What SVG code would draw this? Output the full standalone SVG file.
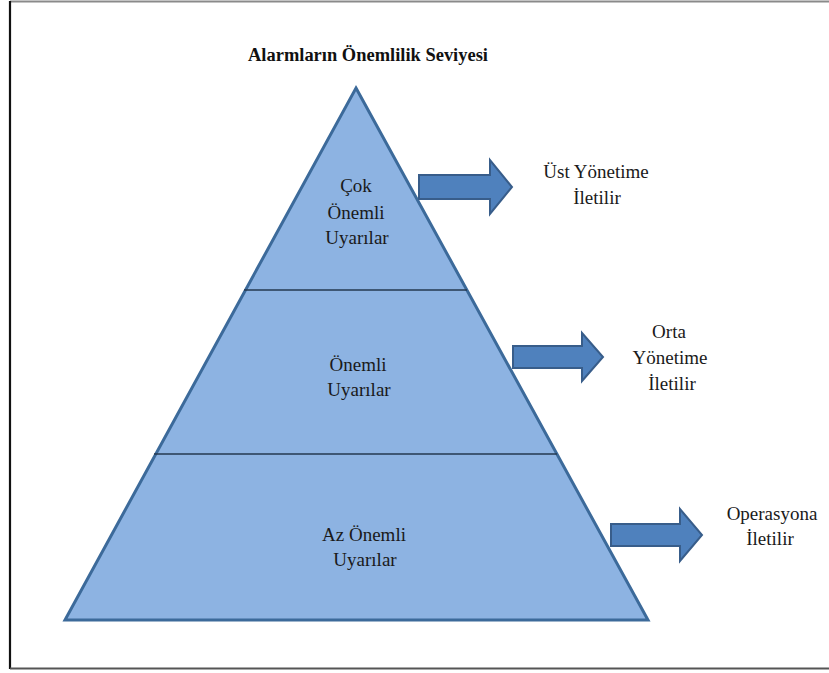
<svg xmlns="http://www.w3.org/2000/svg" width="829" height="673" viewBox="0 0 829 673">
<style>
.lbl{font-family:'Liberation Serif','Times New Roman',Times,serif;font-size:19px;fill:#1a1a1a;text-anchor:middle}
.ttl{font-family:'Liberation Serif','Times New Roman',Times,serif;font-size:18px;font-weight:bold;fill:#111;text-anchor:middle}
.arrow{fill:#4F81BD;stroke:#385D8A;stroke-width:2;stroke-linejoin:miter}
.div{stroke:#24384f;stroke-width:1.6;fill:none}
</style>
<rect width="829" height="673" fill="#ffffff"/>
<g id="frame">
<line x1="10" y1="1.5" x2="829" y2="1.5" stroke="#8a8a8a" stroke-width="2"/>
<line x1="10" y1="1" x2="10" y2="669" stroke="#111" stroke-width="2.2"/>
<line x1="10" y1="668.5" x2="829" y2="668.5" stroke="#555" stroke-width="2"/>
</g>
<g id="title"><text class="ttl" x="368" y="61" textLength="240" lengthAdjust="spacingAndGlyphs">Alarmların Önemlilik Seviyesi</text></g>
<g id="pyramid">
<polygon points="356,88 648,620 65,620" fill="#8DB3E2" stroke="#3C6A9A" stroke-width="3" stroke-linejoin="miter"/>
</g>
<g id="connectors">
<line class="div" x1="244" y1="290" x2="467" y2="290"/>
<line class="div" x1="154" y1="454" x2="557" y2="454"/>
</g>
<g id="level1">
<text class="lbl" x="356" y="192">Çok</text>
<text class="lbl" x="356" y="219">Önemli</text>
<text class="lbl" x="357" y="244">Uyarılar</text>
</g>
<g id="level2">
<text class="lbl" x="358" y="371">Önemli</text>
<text class="lbl" x="359" y="396">Uyarılar</text>
</g>
<g id="level3">
<text class="lbl" x="364" y="541">Az Önemli</text>
<text class="lbl" x="365" y="566">Uyarılar</text>
</g>
<g id="arrow1"><polygon class="arrow" points="419,175 490,175 490,160 512,187 490,214 490,199 419,199"/></g>
<g id="arrow2"><polygon class="arrow" points="513,346 582,346 582,333 603,357 582,381 582,368 513,368"/></g>
<g id="arrow3"><polygon class="arrow" points="611,524 680,524 680,509 702,535 680,561 680,546 611,546"/></g>
<g id="out1">
<text class="lbl" x="596" y="178">Üst Yönetime</text>
<text class="lbl" x="597" y="204">İletilir</text>
</g>
<g id="out2">
<text class="lbl" x="669" y="338">Orta</text>
<text class="lbl" x="670" y="364">Yönetime</text>
<text class="lbl" x="672" y="390">İletilir</text>
</g>
<g id="out3">
<text class="lbl" x="772" y="520">Operasyona</text>
<text class="lbl" x="770" y="545">İletilir</text>
</g>
</svg>
